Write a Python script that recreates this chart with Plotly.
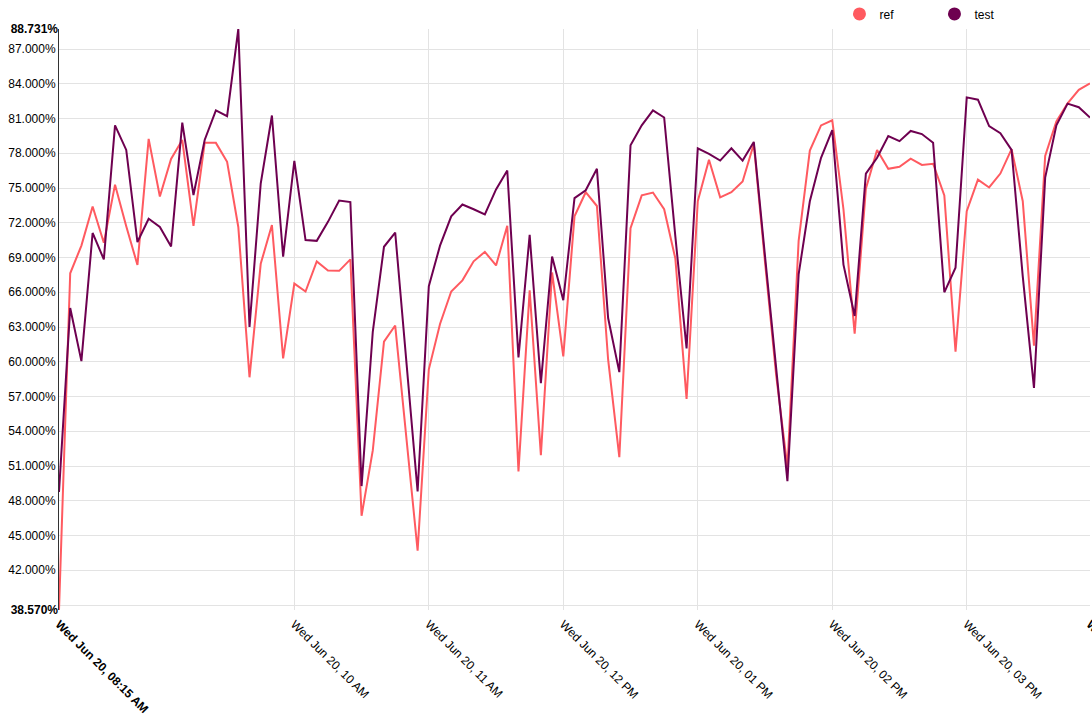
import plotly.graph_objects as go
import pandas as pd

# 5-minute samples, Wed Jun 20 08:15 AM .. 03:55 PM
times = pd.date_range("2018-06-20 08:15", "2018-06-20 15:55", freq="5min")

ref_values = [
    38.57, 67.64, 70.03, 73.41, 70.27, 75.29, 71.70, 68.36, 79.25, 74.27,
    77.51, 79.15, 71.74, 78.90, 78.90, 77.27, 71.64, 58.66, 68.46, 71.81,
    60.30, 66.75, 66.07, 68.67, 67.88, 67.85, 68.84, 46.71, 52.35, 61.74,
    63.13, 53.24, 43.70, 59.35, 63.27, 66.07, 67.03, 68.67, 69.49, 68.32,
    71.74, 50.54, 66.17, 51.94, 67.71, 60.47, 72.56, 74.64, 73.45, 60.20,
    51.77, 71.53, 74.37, 74.61, 73.17, 68.91, 56.79, 73.86, 77.44, 74.20,
    74.64, 75.56, 78.80, 68.60, 58.80, 50.90, 70.44, 78.23, 80.41, 80.85,
    73.17, 62.42, 74.95, 78.29, 76.66, 76.83, 77.54, 77.00, 77.10, 74.37,
    60.88, 73.00, 75.73, 75.05, 76.25, 78.36, 73.86, 61.40, 77.78, 80.75,
    82.32, 83.48, 84.03,
]

test_values = [
    48.76, 64.64, 60.06, 71.12, 68.84, 80.41, 78.29, 70.34, 72.35, 71.64,
    69.96, 80.65, 74.40, 79.15, 81.71, 81.20, 88.731, 63.00, 75.39, 81.26,
    69.08, 77.34, 70.51, 70.44, 72.08, 73.92, 73.79, 49.27, 62.59, 69.93,
    71.16, 59.80, 48.80, 66.52, 70.03, 72.56, 73.58, 73.17, 72.73, 74.88,
    76.52, 60.37, 70.95, 58.15, 69.08, 65.32, 74.13, 74.81, 76.66, 63.78,
    59.11, 78.70, 80.41, 81.71, 81.09, 70.80, 61.16, 78.43, 77.95, 77.37,
    78.43, 77.37, 78.98, 69.13, 59.27, 49.70, 67.54, 73.86, 77.61, 80.00,
    68.39, 63.95, 76.25, 77.61, 79.49, 79.05, 79.93, 79.66, 78.91, 66.00,
    68.12, 82.83, 82.63, 80.34, 79.73, 78.29, 67.37, 57.74, 75.90, 80.41,
    82.29, 81.98, 81.09,
]

series_names = ["ref", "test"]
series_colors = ["#ff5a60", "#6e0050"]

x_tick_times = ["2018-06-20 08:15:00", "2018-06-20 10:00:00", "2018-06-20 11:00:00",
                "2018-06-20 12:00:00", "2018-06-20 13:00:00", "2018-06-20 14:00:00",
                "2018-06-20 15:00:00", "2018-06-20 15:54:59"]
x_tick_labels = ["<b>Wed Jun 20, 08:15 AM</b>", "Wed Jun 20, 10 AM", "Wed Jun 20, 11 AM",
                 "Wed Jun 20, 12 PM", "Wed Jun 20, 01 PM", "Wed Jun 20, 02 PM",
                 "Wed Jun 20, 03 PM", "<b>Wed Jun 20, 03:55 PM</b>"]
x_range = ["2018-06-20 08:15:00", "2018-06-20 15:55:00"]

y_min, y_max = 38.57, 88.731
y_grid_vals = list(range(39, 88, 3))
y_grid_labels = ["" if v == 39 else f"{v:.3f}%" for v in y_grid_vals]

FONT = "Liberation Sans, Arial, sans-serif"

fig = go.Figure()
for name, vals, col in zip(series_names, [ref_values, test_values], series_colors):
    fig.add_trace(go.Scatter(x=times, y=vals, mode="lines", name=name,
                             line=dict(color=col, width=2), showlegend=False))
# legend entries (circle symbols)
for name, col in zip(series_names, series_colors):
    fig.add_trace(go.Scatter(x=[None], y=[None], mode="markers", name=name,
                             marker=dict(color=col, size=13, symbol="circle"),
                             showlegend=True))
# overlay axis carrying the bold extreme labels
fig.add_trace(go.Scatter(x=times, y=test_values, mode="lines", yaxis="y2",
                         line=dict(width=0), opacity=0, hoverinfo="skip",
                         showlegend=False))

fig.update_layout(
    width=1092, height=714,
    margin=dict(l=59, r=2, t=29, b=104, autoexpand=False),
    paper_bgcolor="white", plot_bgcolor="white",
    font=dict(family=FONT, size=12, color="#000"),
    xaxis=dict(type="date", range=x_range, automargin=False,
               tickvals=x_tick_times, ticktext=x_tick_labels,
               tickangle=45, showgrid=True, gridcolor="#e3e3e3", gridwidth=1,
               showline=False, zeroline=False, ticks="", ticklabelstandoff=4,
               ticklabeloverflow="allow",
               tickfont=dict(family=FONT, size=12, color="#000")),
    yaxis=dict(range=[y_min, y_max], tickvals=y_grid_vals, ticktext=y_grid_labels,
               automargin=False,
               showgrid=True, gridcolor="#e3e3e3", gridwidth=1,
               showline=True, linecolor="#333", linewidth=1,
               zeroline=False, ticks="",
               tickfont=dict(family=FONT, size=12, color="#000")),
    yaxis2=dict(range=[y_min, y_max], overlaying="y", side="left",
                automargin=False,
                tickvals=[y_min, y_max],
                ticktext=[f"<b>{y_min:.3f}%</b>", f"<b>{y_max:.3f}%</b>"],
                showgrid=False, showline=False, zeroline=False, ticks="",
                tickfont=dict(family=FONT, size=12, color="#000")),
    legend=dict(orientation="h", x=0.757, xanchor="left", y=1.026, yanchor="middle",
                bgcolor="rgba(0,0,0,0)", font=dict(family=FONT, size=12, color="#000"),
                entrywidth=50, entrywidthmode="pixels", itemwidth=30),
    hovermode="x",
)

fig.write_html("out.html", config={"displayModeBar": False},
               post_script="document.body.style.margin='0';document.body.style.overflow='hidden';")
